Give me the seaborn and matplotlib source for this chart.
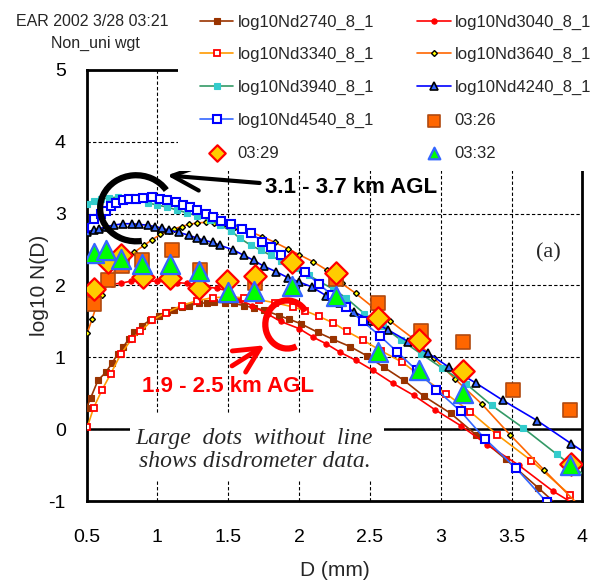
import numpy as np
import pandas as pd
import matplotlib
matplotlib.use("Agg")
import matplotlib.pyplot as plt
import seaborn as sns
from matplotlib.patches import Arc, Rectangle

# ---------------- radar curves (D in mm, log10 N(D)) ----------------
d_2740 = [0.50, 0.53, 0.58, 0.635, 0.68, 0.72, 0.76, 0.80, 0.835, 0.89, 0.95, 1.01, 1.07, 1.12,
          1.17, 1.22, 1.29, 1.35, 1.40, 1.48, 1.54, 1.61, 1.68, 1.75, 1.86, 1.93, 2.01, 2.13,
          2.24, 2.36, 2.48, 2.60, 2.74, 2.88, 3.07, 3.25, 3.46, 3.69, 3.87]
n_2740 = [0.30, 0.44, 0.68, 0.79, 0.92, 1.05, 1.15, 1.26, 1.35, 1.44, 1.52, 1.58, 1.63, 1.66,
          1.70, 1.72, 1.75, 1.76, 1.77, 1.76, 1.75, 1.72, 1.69, 1.66, 1.58, 1.53, 1.47, 1.35,
          1.25, 1.15, 1.02, 0.86, 0.68, 0.46, 0.22, -0.08, -0.42, -0.82, -1.14]

d_3040 = [0.50, 0.52, 0.57, 0.62, 0.68, 0.74, 0.81, 0.87, 0.925, 1.00, 1.07, 1.14, 1.21, 1.28,
          1.35, 1.42, 1.49, 1.58, 1.67, 1.78, 1.87, 2.00, 2.10, 2.19, 2.29, 2.40, 2.52, 2.66,
          2.81, 2.96, 3.14, 3.33, 3.55, 3.79, 3.99]
n_3040 = [1.88, 1.91, 1.96, 2.00, 2.02, 2.03, 2.06, 2.06, 2.06, 2.06, 2.05, 2.04, 2.03, 2.01,
          1.98, 1.96, 1.93, 1.80, 1.72, 1.60, 1.50, 1.40, 1.28, 1.19, 1.07, 0.96, 0.82, 0.64,
          0.47, 0.27, 0.05, -0.22, -0.50, -0.86, -1.10]

d_3340 = [0.505, 0.55, 0.61, 0.67, 0.74, 0.82, 0.88, 0.965, 1.06, 1.17, 1.28, 1.39, 1.50, 1.61,
          1.72, 1.83, 1.96, 2.04, 2.14, 2.24, 2.34, 2.45, 2.58, 2.73, 2.87, 3.04, 3.21, 3.40,
          3.64, 3.91]
n_3340 = [0.03, 0.30, 0.55, 0.77, 1.04, 1.26, 1.36, 1.52, 1.62, 1.72, 1.79, 1.83, 1.84, 1.83,
          1.80, 1.76, 1.70, 1.65, 1.57, 1.48, 1.36, 1.24, 1.09, 0.93, 0.72, 0.49, 0.24, -0.08,
          -0.44, -0.91]

d_3640 = [0.505, 0.54, 0.57, 0.61, 0.66, 0.71, 0.77, 0.835, 0.905, 0.965, 1.02, 1.08, 1.12, 1.17,
          1.22, 1.28, 1.34, 1.40, 1.47, 1.55, 1.64, 1.74, 1.83, 1.92, 2.00, 2.10, 2.20, 2.30,
          2.40, 2.52, 2.64, 2.80, 2.95, 3.10, 3.29, 3.49, 3.73, 3.99]
n_3640 = [1.34, 1.54, 1.72, 1.87, 2.07, 2.25, 2.37, 2.46, 2.56, 2.64, 2.71, 2.76, 2.79, 2.82,
          2.85, 2.87, 2.88, 2.87, 2.86, 2.82, 2.76, 2.68, 2.60, 2.51, 2.43, 2.33, 2.21, 2.03,
          1.89, 1.70, 1.51, 1.27, 0.99, 0.70, 0.35, -0.08, -0.57, -1.09]

d_3940 = [0.50, 0.55, 0.60, 0.66, 0.72, 0.78, 0.85, 0.93, 1.00, 1.07, 1.14, 1.21, 1.28, 1.37,
          1.44, 1.52, 1.58, 1.66, 1.73, 1.80, 1.87, 1.97, 2.07, 2.15, 2.24, 2.33, 2.46, 2.59,
          2.72, 2.86, 3.01, 3.18, 3.36, 3.58, 3.82, 4.08]
n_3940 = [3.13, 3.17, 3.20, 3.22, 3.23, 3.22, 3.19, 3.15, 3.12, 3.09, 3.05, 3.01, 2.97, 2.91,
          2.84, 2.76, 2.66, 2.56, 2.49, 2.42, 2.34, 2.25, 2.14, 2.05, 1.95, 1.83, 1.61, 1.43,
          1.24, 1.05, 0.85, 0.63, 0.33, 0.02, -0.35, -0.74]

d_4240 = [0.505, 0.55, 0.59, 0.64, 0.69, 0.76, 0.82, 0.87, 0.93, 0.98, 1.03, 1.08, 1.15, 1.22,
          1.28, 1.33, 1.39, 1.44, 1.53, 1.61, 1.68, 1.75, 1.84, 1.92, 2.00, 2.09, 2.19, 2.29,
          2.39, 2.51, 2.63, 2.77, 2.91, 3.06, 3.25, 3.44, 3.68, 3.92, 4.15]
n_4240 = [2.75, 2.77, 2.79, 2.82, 2.84, 2.86, 2.86, 2.85, 2.84, 2.82, 2.80, 2.77, 2.74, 2.70,
          2.66, 2.63, 2.60, 2.56, 2.50, 2.42, 2.35, 2.27, 2.19, 2.11, 2.05, 1.98, 1.86, 1.75,
          1.63, 1.51, 1.38, 1.22, 1.06, 0.86, 0.64, 0.40, 0.12, -0.20, -0.50]

d_4540 = [0.48, 0.55, 0.60, 0.64, 0.67, 0.71, 0.76, 0.80, 0.85, 0.90, 0.965, 1.02, 1.07, 1.13,
          1.18, 1.23, 1.28, 1.34, 1.39, 1.45, 1.52, 1.60, 1.66, 1.74, 1.80, 1.87, 1.96, 2.04,
          2.14, 2.23, 2.33, 2.45, 2.57, 2.69, 2.83, 2.97, 3.14, 3.31, 3.53, 3.75, 3.95]
n_4540 = [2.80, 2.92, 2.99, 3.04, 3.10, 3.15, 3.19, 3.20, 3.21, 3.22, 3.23, 3.21, 3.19, 3.16,
          3.12, 3.09, 3.05, 3.00, 2.95, 2.90, 2.86, 2.79, 2.73, 2.61, 2.53, 2.42, 2.30, 2.19,
          2.02, 1.87, 1.70, 1.50, 1.30, 1.08, 0.82, 0.55, 0.25, -0.13, -0.54, -1.02, -1.40]

# ---------------- disdrometer (large dots, no line) ----------------
d_0326 = [0.55, 0.65, 0.75, 0.89, 1.10, 1.30, 1.69, 2.26, 2.56, 2.86, 3.16, 3.51, 3.91]
n_0326 = [1.74, 2.08, 2.27, 2.36, 2.50, 2.22, 2.03, 2.09, 1.75, 1.37, 1.21, 0.55, 0.27]

d_0329 = [0.55, 0.65, 0.745, 0.90, 1.09, 1.29, 1.49, 1.69, 1.95, 2.26, 2.56, 2.85, 3.16, 3.92]
n_0329 = [1.95, 2.33, 2.42, 2.12, 2.10, 1.97, 2.06, 2.13, 2.33, 2.17, 1.55, 1.24, 0.81, -0.48]

d_0332 = [0.55, 0.64, 0.745, 0.89, 1.09, 1.29, 1.50, 1.68, 1.95, 2.26, 2.56, 2.85, 3.16, 3.91]
n_0332 = [2.45, 2.50, 2.37, 2.30, 2.30, 2.20, 1.91, 1.93, 1.99, 1.85, 1.07, 0.82, 0.51, -0.50]

x_ticks = [0.5, 1, 1.5, 2, 2.5, 3, 3.5, 4]
x_tick_labels = ["0.5", "1", "1.5", "2", "2.5", "3", "3.5", "4"]
y_ticks = [-1, 0, 1, 2, 3, 4, 5]
y_tick_labels = ["-1", "0", "1", "2", "3", "4", "5"]

sns.set_style("white")
plt.rcParams["font.family"] = ["Liberation Sans", "DejaVu Sans"]
plt.rcParams["axes.unicode_minus"] = False

W, H = 592, 581
fig = plt.figure(figsize=(W / 100, H / 100), dpi=100)
ax = fig.add_axes([86.6 / W, 1 - 501 / H, (582.4 - 86.6) / W, (501 - 70) / H])

# radar lines
radar = [
    (d_2740, n_2740, "log10Nd2740_8_1", "#993300", "s", 3.8, "#993300", "#993300", 0.8),
    (d_3040, n_3040, "log10Nd3040_8_1", "#FF0000", "o", 3.8, "#FF0000", "#FF0000", 0.8),
    (d_3340, n_3340, "log10Nd3340_8_1", "#FF9900", "s", 3.8, "white", "#FF0000", 1.3),
    (d_3640, n_3640, "log10Nd3640_8_1", "#FF6600", "D", 3.0, "#FFFF00", "black", 1.0),
    (d_3940, n_3940, "log10Nd3940_8_1", "#339966", "s", 3.8, "#33CCCC", "#33CCCC", 0.8),
    (d_4240, n_4240, "log10Nd4240_8_1", "#0000FF", "^", 6.0, "#3366FF", "black", 1.2),
    (d_4540, n_4540, "log10Nd4540_8_1", "#3366FF", "s", 5.8, "white", "#0000FF", 1.5),
]
for d, n, lab, col, mk, ms, mfc, mec, mew in radar:
    sns.lineplot(x=d, y=n, ax=ax, color=col, lw=1.2, marker=mk, markersize=ms,
                 markerfacecolor=mfc, markeredgecolor=mec, markeredgewidth=mew,
                 estimator=None, sort=False, label=lab, zorder=3)

# disdrometer points
sns.scatterplot(x=d_0326, y=n_0326, ax=ax, marker="s", s=110, color="#FF6600",
                edgecolor="#B04A10", linewidth=1.2, label="03:26", zorder=4)
sns.scatterplot(x=d_0329, y=n_0329, ax=ax, marker="D", s=130, color="#FFCC00",
                edgecolor="#FF0000", linewidth=1.6, label="03:29", zorder=5)
sns.scatterplot(x=d_0332, y=n_0332, ax=ax, marker="^", s=190, color="#00FF00",
                edgecolor="#3366FF", linewidth=1.6, label="03:32", zorder=6)

ax.set_xlim(0.5, 4.0)
ax.set_ylim(-1, 5)
ax.set_xticks(x_ticks)
ax.set_xticklabels(x_tick_labels)
ax.set_yticks(y_ticks)
ax.set_yticklabels(y_tick_labels)
ax.tick_params(axis="both", length=0, labelsize=14, colors="black")
ax.tick_params(axis="x", pad=20)
ax.tick_params(axis="y", pad=15)
ax.set_axisbelow(True)
ax.grid(True, color="black", linestyle=(0, (3, 2)), linewidth=0.8)
ax.axhline(0, color="black", lw=1.8, zorder=1)
for sp in ax.spines.values():
    sp.set_color("black")
    sp.set_linewidth(2.0)

ax.set_xlabel("D (mm)", fontsize=15)
ax.set_ylabel("log10 N(D)", fontsize=15)
ax.xaxis.set_label_coords(0.5, -0.14)
ax.yaxis.set_label_coords(-0.075, 0.5)

# white box for the note
ax.add_patch(Rectangle((0.807, -0.72), 1.793, 0.94, facecolor="white",
                       edgecolor="none", zorder=2))
ax.text(1.684, -0.29, "Large  dots  without  line\nshows disdrometer data.",
        family="Liberation Serif", style="italic", fontsize=17, ha="center",
        va="center", linespacing=1.1, zorder=7)
ax.text(3.76, 2.46, "(a)", family="Liberation Serif", fontsize=16,
        ha="center", va="center", zorder=7)

# height annotations
ax.text(1.762, 3.37, "3.1 - 3.7 km AGL", fontsize=16, fontweight="bold",
        color="black", ha="left", va="center", zorder=7)
ax.text(1.50, 0.593, "1.9 - 2.5 km AGL", fontsize=16, fontweight="bold",
        color="#FF0000", ha="center", va="center", zorder=7)
ax.annotate("", xy=(1.048, 3.536), xytext=(1.741, 3.424),
            arrowprops=dict(arrowstyle="->,head_length=1.0,head_width=0.45",
                            mutation_scale=20, lw=3, color="black"), zorder=7)
ax.annotate("", xy=(1.774, 1.188), xytext=(1.51, 0.86),
            arrowprops=dict(arrowstyle="->,head_length=0.9,head_width=0.45",
                            mutation_scale=20, lw=3.5, color="#FF0000"), zorder=7)
ax.add_patch(Arc((0.85, 3.075), 0.509, 0.92, theta1=50, theta2=275,
                 color="black", lw=4.5, zorder=7))
ax.add_patch(Arc((1.917, 1.457), 0.311, 0.669, theta1=55, theta2=282,
                 color="#FF0000", lw=4.5, zorder=7))

# legend (white area covering the top of the plot)
fig.add_artist(Rectangle((178 / W, 1 - 171 / H), (W - 178) / W, 171 / H,
                         transform=fig.transFigure, facecolor="white",
                         edgecolor="none", zorder=1))
handles, labels = ax.get_legend_handles_labels()
ax.get_legend().remove()
order = [0, 2, 4, 6, 8, 1, 3, 5, 7, 9]
leg = fig.legend([handles[i] for i in order], [labels[i] for i in order],
                 loc="upper left", bbox_to_anchor=(200 / W, 1 - 14.5 / H),
                 ncol=2, fontsize=12, frameon=False, borderpad=0, borderaxespad=0,
                 handlelength=2.0, handletextpad=0.25, columnspacing=2.6,
                 labelspacing=1.06)
leg.set_zorder(2)
for h in leg.legend_handles:
    if hasattr(h, "set_sizes"):
        h.set_sizes([70])

fig.text(92 / W, 1 - 22 / H, "EAR 2002 3/28 03:21", fontsize=11.5, ha="center", va="center")
fig.text(95 / W, 1 - 43 / H, "Non_uni wgt", fontsize=11.5, ha="center", va="center")

fig.savefig("out.png", dpi=100)
